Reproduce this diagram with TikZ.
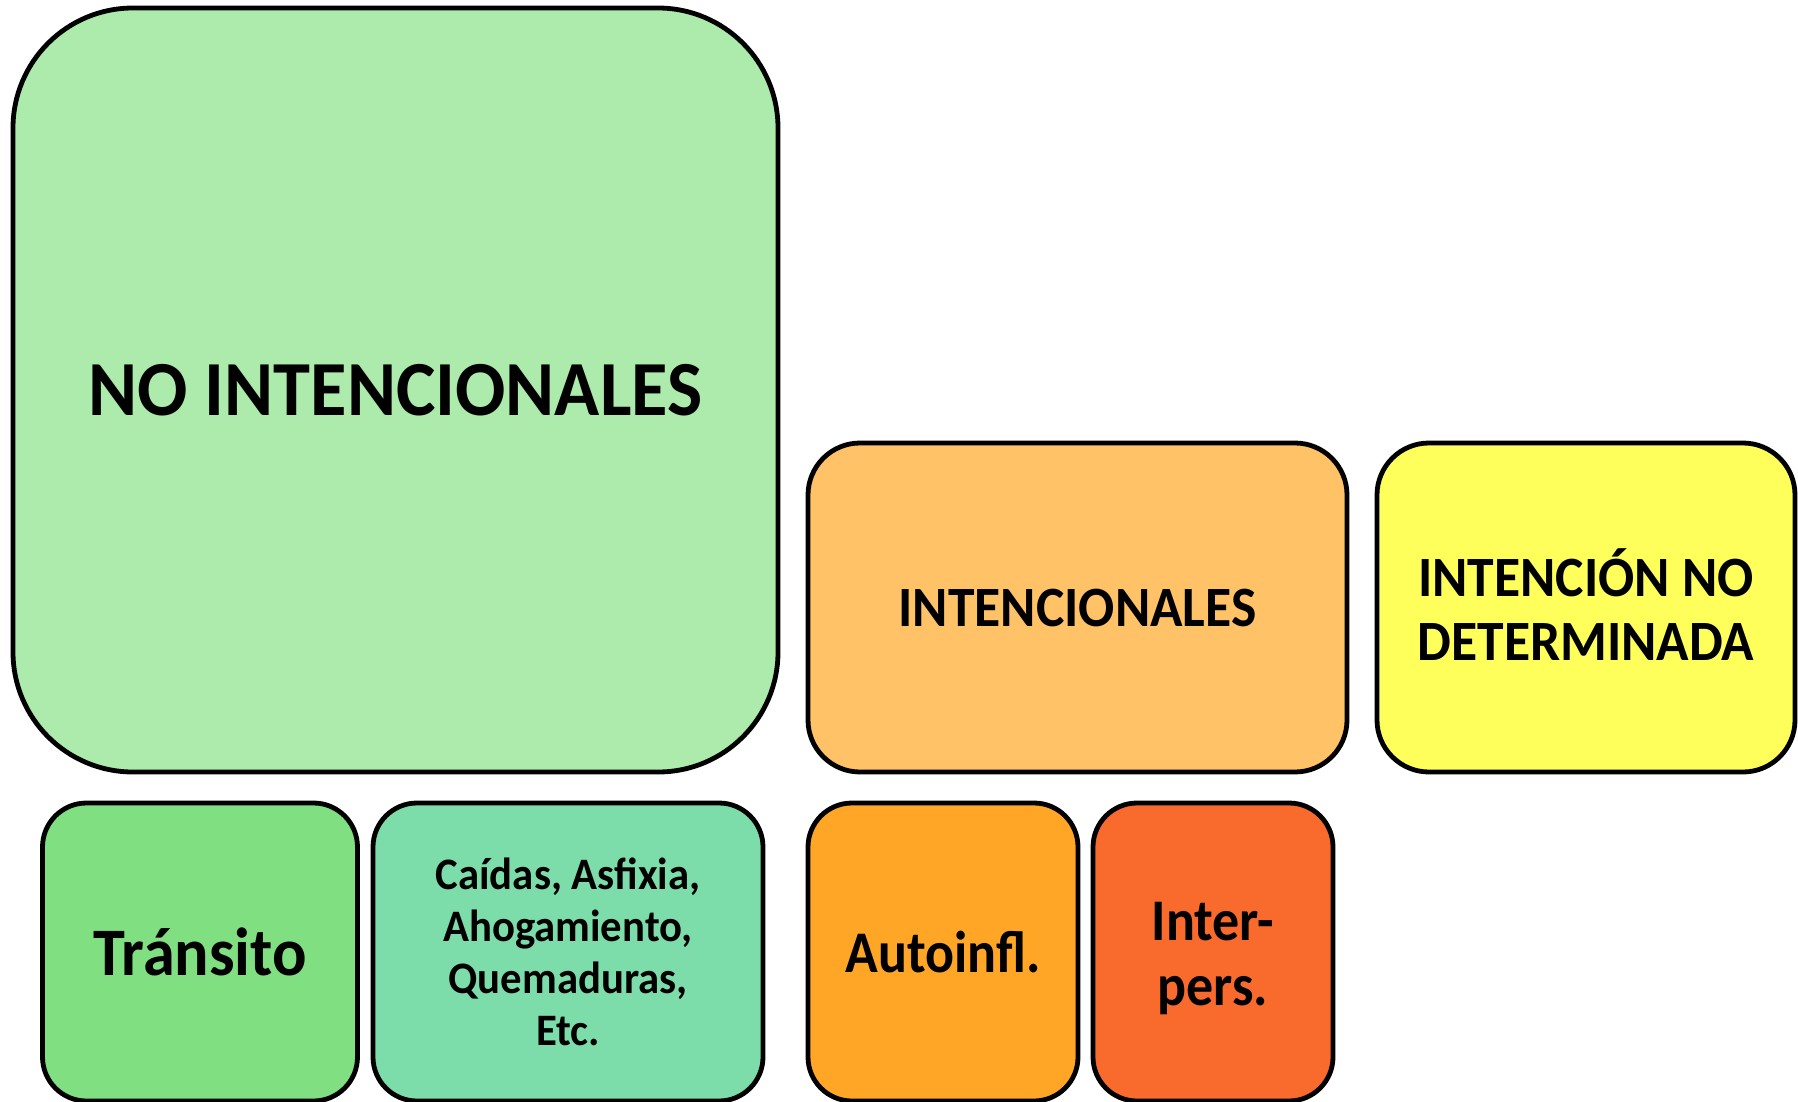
\documentclass[tikz,border=0pt]{standalone}
\usepackage{fontspec}
\setmainfont{Carlito}
\newfontfamily\fNoint[FakeStretch=0.955]{Carlito}
\newfontfamily\fInt[FakeStretch=0.94]{Carlito}
\newfontfamily\fTran[FakeStretch=0.945]{Carlito}
\newfontfamily\fCaid[FakeStretch=0.95]{Carlito}
\newfontfamily\fAuto[FakeStretch=0.915]{Carlito}
\definecolor{cBig}{RGB}{173,235,173}
\definecolor{cTran}{RGB}{128,223,128}
\definecolor{cCaid}{RGB}{125,221,170}
\definecolor{cInt}{RGB}{255,194,102}
\definecolor{cInd}{RGB}{255,255,92}
\definecolor{cAuto}{RGB}{255,166,38}
\definecolor{cInter}{RGB}{249,106,45}
\tikzset{
  box/.style={draw=black, line width=2.4pt, align=center, inner sep=0pt},
}
\begin{document}
\begin{tikzpicture}[x=0.5pt,y=-0.5pt]
\useasboundingbox (0,0) rectangle (1798,1102);
\node[box, fill=cBig, rounded corners=60pt, minimum width=382.5pt, minimum height=382pt,
  font=\fNoint\bfseries\fontsize{39}{46}\selectfont] (noint) at (395.5,390) {NO INTENCIONALES};
\node[box, fill=cInt, rounded corners=26pt, minimum width=269.5pt, minimum height=164.5pt,
  font=\fInt\bfseries\fontsize{28.5}{32}\selectfont] (int) at (1077.5,607.5) {INTENCIONALES};
\node[box, fill=cInd, rounded corners=26pt, minimum width=209pt, minimum height=164.5pt] (ind) at (1586,607.5) {};
\node[font=\fInt\bfseries\fontsize{28.5}{32}\selectfont, align=center, inner sep=0pt] (indtxt) at (1586,605) {INTENCIÓN NO\\DETERMINADA};
\node[box, fill=cTran, rounded corners=22pt, minimum width=157.5pt, minimum height=149pt,
  font=\fTran\bfseries\fontsize{34}{40}\selectfont] (tran) at (200,952) {Tránsito};
\node[box, fill=cCaid, rounded corners=22pt, minimum width=195pt, minimum height=149pt,
  font=\fCaid\bfseries\fontsize{22.5}{26}\selectfont] (caid) at (568,952) {Caídas, Asfixia,\\Ahogamiento,\\Quemaduras,\\Etc.};
\node[box, fill=cAuto, rounded corners=22pt, minimum width=135pt, minimum height=149pt,
  font=\fAuto\bfseries\fontsize{29.5}{32.5}\selectfont] (auto) at (943,952) {Autoinfl.};
\node[box, fill=cInter, rounded corners=22pt, minimum width=120pt, minimum height=149pt] (inter) at (1213,952) {};
\node[font=\fAuto\bfseries\fontsize{29.5}{32.5}\selectfont, align=center, inner sep=0pt] (intertxt) at (1213,958) {Inter-\\pers.};
\end{tikzpicture}
\end{document}
